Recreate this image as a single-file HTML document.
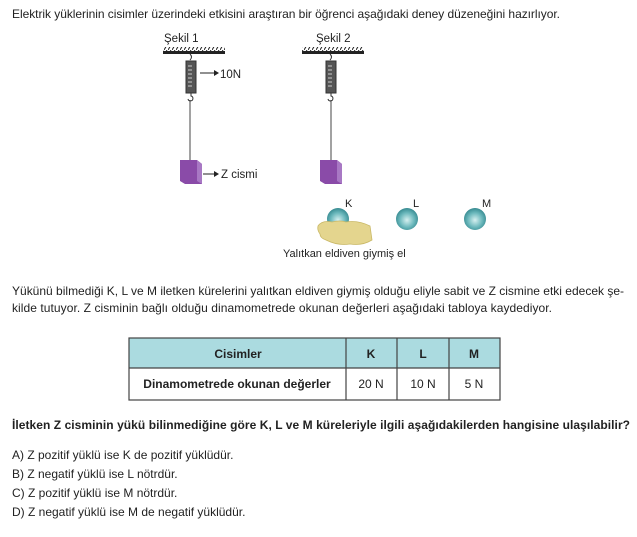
<!DOCTYPE html>
<html><head><meta charset="utf-8"><style>
body{margin:0;background:#fff}
svg{display:block;font-family:"Liberation Sans",sans-serif}
</style></head><body>
<svg width="637" height="537" viewBox="0 0 637 537" xmlns="http://www.w3.org/2000/svg">
<defs>
<radialGradient id="sp" cx="0.5" cy="0.55" r="0.6">
<stop offset="0" stop-color="#d6f0f0"/><stop offset="0.55" stop-color="#6bb8bc"/><stop offset="1" stop-color="#2a7f86"/></radialGradient>
<pattern id="hat" width="4" height="5" patternUnits="userSpaceOnUse"><line x1="0" y1="5" x2="3" y2="0" stroke="#222" stroke-width="1"/></pattern>
</defs>
<text x="12" y="18" font-size="12" textLength="548" fill="#222">Elektrik yüklerinin cisimler üzerindeki etkisini araştıran bir öğrenci aşağıdaki deney düzeneğini hazırlıyor.</text>

<!-- Sekil 1 -->
<text x="164" y="42" font-size="11.5" fill="#222">Şekil 1</text>
<rect x="163" y="47" width="62" height="4" fill="url(#hat)"/>
<rect x="163" y="51" width="62" height="3" fill="#222"/>
<path d="M190 54 q3 3 0 6" stroke="#333" fill="none"/>
<rect x="186" y="61" width="10" height="32" fill="#555" stroke="#333"/>
<g stroke="#ccc" stroke-width="1"><line x1="188" y1="66" x2="192" y2="66"/><line x1="188" y1="70" x2="192" y2="70"/><line x1="188" y1="74" x2="192" y2="74"/><line x1="188" y1="78" x2="192" y2="78"/><line x1="188" y1="82" x2="192" y2="82"/><line x1="188" y1="86" x2="192" y2="86"/></g>
<path d="M191 93 v3 a2.5 2.5 0 1 1 -3 3" stroke="#333" fill="none"/>
<line x1="190" y1="100" x2="190" y2="160" stroke="#444"/>
<line x1="200" y1="73" x2="214" y2="73" stroke="#222"/><path d="M214 70 l5 3 -5 3z" fill="#222"/>
<text x="220" y="78" font-size="11.5" fill="#222">10N</text>
<polygon points="180,160 197,160 202,164 202,184 185,184 180,181" fill="#8a4ba8"/>
<polygon points="197,160 202,164 202,184 197,181" fill="#a878c4"/>
<line x1="203" y1="174" x2="214" y2="174" stroke="#222"/><path d="M214 171 l5 3 -5 3z" fill="#222"/>
<text x="221" y="178" font-size="11.5" fill="#222">Z cismi</text>

<!-- Sekil 2 -->
<text x="316" y="42" font-size="11.5" fill="#222">Şekil 2</text>
<rect x="302" y="47" width="62" height="4" fill="url(#hat)"/>
<rect x="302" y="51" width="62" height="3" fill="#222"/>
<path d="M330 54 q3 3 0 6" stroke="#333" fill="none"/>
<rect x="326" y="61" width="10" height="32" fill="#555" stroke="#333"/>
<g stroke="#ccc"><line x1="328" y1="66" x2="332" y2="66"/><line x1="328" y1="70" x2="332" y2="70"/><line x1="328" y1="74" x2="332" y2="74"/><line x1="328" y1="78" x2="332" y2="78"/><line x1="328" y1="82" x2="332" y2="82"/><line x1="328" y1="86" x2="332" y2="86"/></g>
<path d="M331 93 v3 a2.5 2.5 0 1 1 -3 3" stroke="#333" fill="none"/>
<line x1="331" y1="100" x2="331" y2="160" stroke="#444"/>
<polygon points="320,160 337,160 342,164 342,184 325,184 320,181" fill="#8a4ba8"/>
<polygon points="337,160 342,164 342,184 337,181" fill="#a878c4"/>

<!-- spheres -->
<circle cx="338" cy="219" r="11" fill="url(#sp)"/>
<circle cx="407" cy="219" r="11" fill="url(#sp)"/>
<circle cx="475" cy="219" r="11" fill="url(#sp)"/>
<path d="M318 226 q4 -6 14 -4 q8 -2 14 0 q12 -2 24 4 l2 14 q-10 6 -22 4 q-12 2 -24 -4 q-6 -2 -6 -6 q-3 -4 -2 -8z" fill="#e4d58e" stroke="#c9b866" stroke-width="0.8"/>
<text x="345" y="207" font-size="11" fill="#222">K</text>
<text x="413" y="207" font-size="11" fill="#222">L</text>
<text x="482" y="207" font-size="11" fill="#222">M</text>
<text x="283" y="257" font-size="11" fill="#222">Yalıtkan eldiven giymiş el</text>

<text x="12" y="295" font-size="12" textLength="612" fill="#222">Yükünü bilmediği K, L ve M iletken kürelerini yalıtkan eldiven giymiş olduğu eliyle sabit ve Z cismine etki edecek şe-</text>
<text x="12" y="312" font-size="12" textLength="540" fill="#222">kilde tutuyor. Z cisminin bağlı olduğu dinamometrede okunan değerleri aşağıdaki tabloya kaydediyor.</text>

<!-- table -->
<rect x="129" y="338" width="371" height="30" fill="#abdbe0"/>
<rect x="129" y="338" width="371" height="62" fill="none" stroke="#444" stroke-width="1.2"/>
<line x1="129" y1="368" x2="500" y2="368" stroke="#444" stroke-width="1.2"/>
<line x1="346" y1="338" x2="346" y2="400" stroke="#444" stroke-width="1.2"/>
<line x1="397" y1="338" x2="397" y2="400" stroke="#444" stroke-width="1.2"/>
<line x1="449" y1="338" x2="449" y2="400" stroke="#444" stroke-width="1.2"/>
<g font-size="12" font-weight="bold" fill="#222" text-anchor="middle">
<text x="238" y="358">Cisimler</text><text x="371" y="358">K</text><text x="423" y="358">L</text><text x="474" y="358">M</text>
<text x="237" y="388">Dinamometrede okunan değerler</text></g>
<g font-size="12" fill="#222" text-anchor="middle">
<text x="371" y="388">20 N</text><text x="423" y="388">10 N</text><text x="474" y="388">5 N</text></g>

<text x="12" y="429" font-size="12" font-weight="bold" textLength="618" fill="#222">İletken Z cisminin yükü bilinmediğine göre K, L ve M küreleriyle ilgili aşağıdakilerden hangisine ulaşılabilir?</text>
<g font-size="12" fill="#222">
<text x="12" y="459">A) Z pozitif yüklü ise K de pozitif yüklüdür.</text>
<text x="12" y="478">B) Z negatif yüklü ise L nötrdür.</text>
<text x="12" y="497">C) Z pozitif yüklü ise M nötrdür.</text>
<text x="12" y="516">D) Z negatif yüklü ise M de negatif yüklüdür.</text>
</g>
</svg>
</body></html>
